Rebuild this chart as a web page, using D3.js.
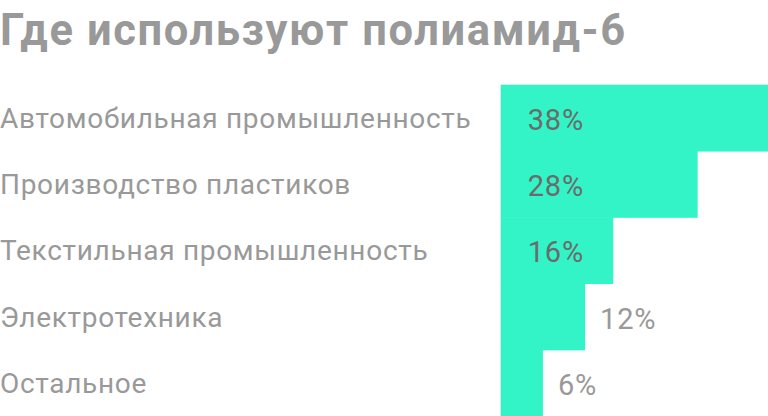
<!DOCTYPE html>
<html><head><meta charset="utf-8">
<script src="https://cdn.jsdelivr.net/npm/d3@7/dist/d3.min.js"></script>
<style>html,body{margin:0;padding:0;background:#fff;}svg{display:block;}</style>
</head><body>
<svg id="c" width="768" height="416"></svg>
<script>
const title = "Где используют полиамид-6";
const categories = ["Автомобильная промышленность","Производство пластиков","Текстильная промышленность","Электротехника","Остальное"];
const values = [38, 28, 16, 12, 6];
const valueLabels = ["38%","28%","16%","12%","6%"];

const W = 768, H = 416;
const svg = d3.select("#c");
const font = "Roboto, 'Noto Sans', sans-serif";

const x = d3.scaleLinear().domain([0, 38]).range([500.7, 768]);
const y = d3.scaleBand().domain(categories).range([84.7, 416]).padding(0);

svg.append("text").attr("x", 0).attr("y", 45)
  .attr("font-family", font).attr("font-weight", 700).attr("font-size", 43.5)
  .attr("letter-spacing", 1.6)
  .attr("fill", "#999").text(title);

svg.selectAll("rect.bar").data(categories).join("rect")
  .attr("class","bar")
  .attr("x", x(0)).attr("y", d => y(d))
  .attr("width", (d,i) => x(values[i]) - x(0))
  .attr("height", y.bandwidth() + 0.6)
  .attr("fill", "#33f4c6");

svg.selectAll("text.cat").data(categories).join("text")
  .attr("class","cat")
  .attr("x", 0).attr("y", d => y(d) + y.bandwidth()/2 + 10)
  .attr("font-family", font).attr("font-size", 28)
  .attr("letter-spacing", 0.7)
  .attr("fill", "#999").text(d => d);

svg.selectAll("text.val").data(categories).join("text")
  .attr("class","val")
  .attr("x", (d,i) => values[i] >= 16 ? x(0) + 27 : x(values[i]) + 15)
  .attr("y", d => y(d) + y.bandwidth()/2 + 12)
  .attr("font-family", font).attr("font-size", 29)
  .attr("letter-spacing", 0.8)
  .attr("fill", (d,i) => values[i] >= 16 ? "#6b6b6b" : "#999")
  .text((d,i) => valueLabels[i]);
</script>
</body></html>
